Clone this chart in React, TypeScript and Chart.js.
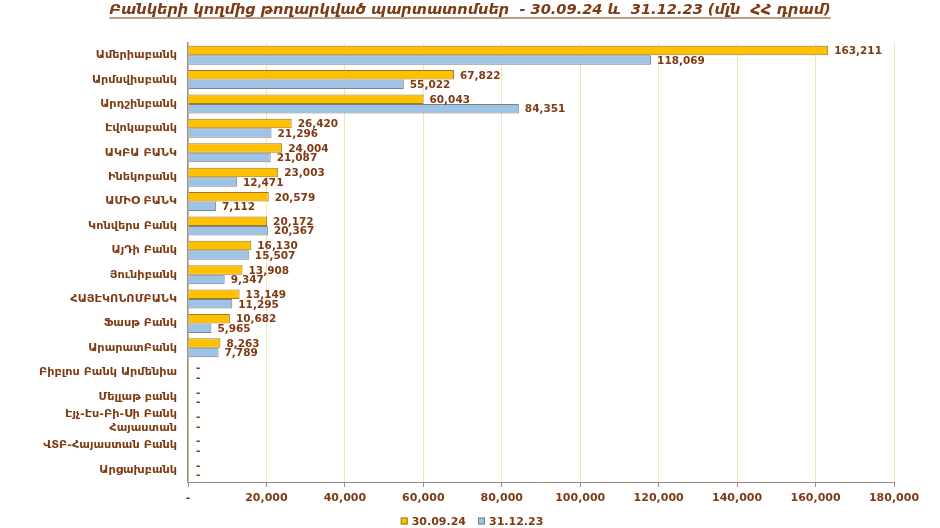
import React, { useEffect, useRef } from "react";
import { Chart, registerables } from "chart.js";

Chart.register(...registerables);

const TITLE = "Բանկերի կողմից թողարկված պարտատոմսեր  - 30.09.24 և  31.12.23 (մլն  ՀՀ դրամ)";

const categories: (string | string[])[] = [
  "Ամերիաբանկ",
  "Արմսվիսբանկ",
  "Արդշինբանկ",
  "Էվոկաբանկ",
  "ԱԿԲԱ ԲԱՆԿ",
  "Ինեկոբանկ",
  "ԱՄԻՕ ԲԱՆԿ",
  "Կոնվերս Բանկ",
  "ԱյԴի Բանկ",
  "Յունիբանկ",
  "ՀԱՅԷԿՈՆՈՄԲԱՆԿ",
  "Ֆասթ Բանկ",
  "ԱրարատԲանկ",
  "Բիբլոս Բանկ Արմենիա",
  "Մելլաթ բանկ",
  ["Էյչ-Էս-Բի-Սի Բանկ", "Հայաստան"],
  "ՎՏԲ-Հայաստան Բանկ",
  "Արցախբանկ",
];

const seriesLabels = ["30.09.24", "31.12.23"];

const values2024 = [163211, 67822, 60043, 26420, 24004, 23003, 20579, 20172, 16130, 13908, 13149, 10682, 8263, 0, 0, 0, 0, 0];
const values2023 = [118069, 55022, 84351, 21296, 21087, 12471, 7112, 20367, 15507, 9347, 11295, 5965, 7789, 0, 0, 0, 0, 0];

const xMin = 0;
const xMax = 180000;
const xStep = 20000;

const BROWN = "#7E3A12";
const FONT = "'DejaVu Sans', sans-serif";

const fmt = (v: number) => (v === 0 ? "-" : v.toLocaleString("en-US"));

const titlePlugin = {
  id: "titleAndLabels",
  beforeDraw(chart: any) {
    const ctx = chart.ctx;
    ctx.save();
    ctx.fillStyle = "#ffffff";
    ctx.fillRect(0, 0, chart.width, chart.height);
    ctx.restore();
  },
  afterDraw(chart: any) {
    const ctx = chart.ctx;
    ctx.save();
    // title
    let size = 16;
    ctx.font = `italic bold ${size}px ${FONT}`;
    let w = ctx.measureText(TITLE).width;
    const target = 722;
    size = size * target / w;
    ctx.font = `italic bold ${size}px ${FONT}`;
    w = ctx.measureText(TITLE).width;
    const cx = 470;
    const baseY = 14;
    ctx.fillStyle = BROWN;
    ctx.textAlign = "center";
    ctx.textBaseline = "alphabetic";
    ctx.fillText(TITLE, cx, baseY);
    ctx.strokeStyle = BROWN;
    ctx.lineWidth = 1.2;
    ctx.beginPath();
    ctx.moveTo(cx - w / 2, baseY + 4);
    ctx.lineTo(cx + w / 2, baseY + 4);
    ctx.stroke();

    // data labels
    ctx.font = `bold 10.5px ${FONT}`;
    ctx.textAlign = "left";
    ctx.textBaseline = "middle";
    ctx.fillStyle = BROWN;
    chart.data.datasets.forEach((ds: any, di: number) => {
      const meta = chart.getDatasetMeta(di);
      meta.data.forEach((bar: any, i: number) => {
        const v = ds.data[i];
        const x = v === 0 ? bar.x + 8 : bar.x + 6;
        ctx.fillText(fmt(v), x, bar.y + 1);
      });
    });

    // legend
    ctx.font = `bold 11px ${FONT}`;
    ctx.textBaseline = "middle";
    const ly = 521;
    const items = chart.data.datasets.map((ds: any) => ({
      label: ds.label,
      fill: ds.backgroundColor,
      stroke: ds.borderColor,
      tw: ctx.measureText(ds.label).width,
    }));
    const box = 7;
    const gapBox = 4;
    const gapItem = 12;
    const total = items.reduce((a: number, it: any) => a + box + gapBox + it.tw, 0) + gapItem * (items.length - 1);
    let x = 472 - total / 2;
    items.forEach((it: any) => {
      ctx.fillStyle = it.fill;
      ctx.fillRect(x, ly - box / 2, box, box);
      ctx.strokeStyle = it.stroke;
      ctx.lineWidth = 1;
      ctx.strokeRect(x + 0.5, ly - box / 2 + 0.5, box - 1, box - 1);
      x += box + gapBox;
      ctx.fillStyle = BROWN;
      ctx.fillText(it.label, x, ly + 1);
      x += it.tw + gapItem;
    });
    ctx.restore();
  },
};

export default function App() {
  const ref = useRef<HTMLCanvasElement | null>(null);

  useEffect(() => {
    if (!ref.current) return;
    const chart = new Chart(ref.current, {
      type: "bar",
      data: {
        labels: categories,
        datasets: [
          {
            label: seriesLabels[0],
            data: values2024,
            backgroundColor: "#FFC000",
            borderColor: "#A0782A",
            borderWidth: 1,
            categoryPercentage: 0.78,
            barPercentage: 1.0,
          },
          {
            label: seriesLabels[1],
            data: values2023,
            backgroundColor: "#9DC3E6",
            borderColor: "#7F7F7F",
            borderWidth: 1,
            categoryPercentage: 0.78,
            barPercentage: 1.0,
          },
        ],
      },
      options: {
        indexAxis: "y",
        animation: false,
        responsive: false,
        maintainAspectRatio: false,
        layout: { padding: { top: 43, right: 46, left: 0, bottom: 22 } },
        plugins: {
          title: { display: false },
          tooltip: { enabled: false },
          legend: { display: false },
        },
        scales: {
          x: {
            type: "linear",
            min: xMin,
            max: xMax,
            ticks: {
              stepSize: xStep,
              color: BROWN,
              font: { family: FONT, size: 11, weight: "bold" },
              callback: (v: any) => fmt(Number(v)),
              padding: 5,
              maxRotation: 0,
            },
            grid: {
              color: "#F0E4B4",
              tickColor: "#9A8F80",
              tickLength: 5,
              drawOnChartArea: true,
            },
            border: { display: true, color: "#9A8F80", width: 1 },
            afterFit: (s: any) => {
              s.height = 24;
            },
          },
          y: {
            type: "category",
            ticks: {
              color: BROWN,
              font: { family: FONT, size: 11.3, weight: "bold" },
              padding: 11,
              autoSkip: false,
            },
            grid: { display: false, drawTicks: false },
            border: { display: true, color: "#9A8F80", width: 1.5 },
            afterFit: (s: any) => {
              s.width = 188;
            },
          },
        },
      },
      plugins: [titlePlugin],
    } as any);
    return () => chart.destroy();
  }, []);

  return (
    <div style={{ position: "fixed", left: 0, top: 0, width: 940, height: 528, background: "#fff" }}>
      <canvas ref={ref} width={940} height={528} style={{ display: "block" }} />
    </div>
  );
}
